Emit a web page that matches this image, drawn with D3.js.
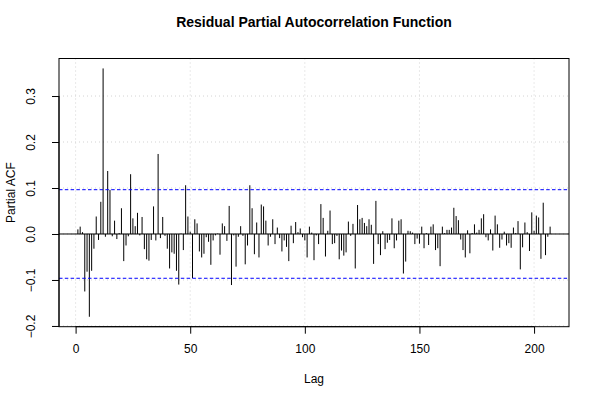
<!DOCTYPE html>
<html>
<head>
<meta charset="utf-8">
<script src="https://cdn.jsdelivr.net/npm/d3@7"></script>
<style>
  html, body { margin: 0; padding: 0; background: #fff; }
  svg { display: block; font-family: "Liberation Sans", Arial, Helvetica, sans-serif; }
</style>
</head>
<body>
<div id="chart"></div>
<script>
const title = "Residual Partial Autocorrelation Function";
const xLabel = "Lag";
const yLabel = "Partial ACF";
const xTicks = [0, 50, 100, 150, 200];
const yTicks = [-0.2, -0.1, 0.0, 0.1, 0.2, 0.3];
const yTickLabels = ["\u22120.2", "\u22120.1", "0.0", "0.1", "0.2", "0.3"];
const confLimit = 0.0963;
const pacf = [
  0.010, 0.016, 0.004, -0.125, -0.082, -0.180, -0.080, -0.032, 0.038, -0.013,
  0.070, 0.360, -0.006, 0.137, 0.096, -0.005, 0.029, -0.011, 0.002, 0.056,
  -0.059, -0.025, -0.005, 0.130, 0.034, 0.017, 0.046, -0.003, 0.037, -0.033,
  -0.055, -0.058, -0.013, 0.060, -0.014, 0.174, -0.009, 0.037, -0.004, -0.032,
  -0.075, -0.040, -0.043, -0.080, -0.110, 0.001, -0.035, 0.106, 0.038, 0.005,
  -0.096, 0.032, 0.023, -0.038, -0.051, -0.043, -0.007, -0.017, -0.067, -0.014,
  -0.003, 0.001, -0.045, 0.023, 0.017, -0.015, 0.061, -0.111, -0.003, -0.071,
  -0.006, 0.017, -0.004, -0.066, -0.025, 0.106, 0.056, -0.044, 0.025, -0.051,
  0.064, 0.060, 0.029, -0.025, -0.006, 0.032, -0.022, 0.014, -0.009, -0.038,
  -0.014, -0.028, -0.059, 0.018, -0.020, 0.026, 0.004, 0.012, -0.007, -0.014,
  -0.051, 0.016, 0.003, -0.057, -0.003, -0.022, 0.065, 0.035, -0.049, 0.007,
  0.051, -0.022, -0.020, -0.004, -0.055, -0.036, -0.047, -0.040, 0.027, -0.004,
  0.022, -0.075, 0.063, 0.032, 0.035, 0.024, 0.017, 0.032, 0.020, -0.065,
  0.072, -0.022, -0.046, 0.006, -0.033, -0.019, -0.013, 0.034, -0.031, -0.014,
  0.029, 0.032, -0.086, -0.060, 0.007, 0.006, 0.003, -0.022, -0.010, -0.021,
  0.016, -0.031, 0.002, -0.024, 0.016, 0.021, -0.035, -0.031, -0.070, 0.016,
  0.002, 0.009, 0.009, 0.014, 0.057, 0.039, 0.030, -0.012, -0.035, -0.051,
  0.008, -0.042, 0.002, 0.021, 0.003, 0.009, 0.034, 0.043, -0.007, -0.014,
  0.010, -0.036, 0.040, 0.021, -0.030, -0.012, 0.005, -0.025, -0.020, -0.030,
  0.014, 0.002, 0.028, -0.077, -0.029, 0.025, 0.004, -0.037, 0.047, 0.007,
  0.040, 0.036, -0.054, 0.068, -0.046, -0.006, 0.016
];
const lags = pacf.map((_, i) => i + 1);

const W = 600, H = 400;
const plot = { left: 59, right: 569, top: 58.5, bottom: 326.7 };

const svg = d3.select("#chart").append("svg").attr("width", W).attr("height", H);

// R-style 4% axis expansion
const xr = d3.extent(lags);
const xpad = (xr[1] - xr[0]) * 0.04;
const yr = d3.extent(pacf.concat([confLimit, -confLimit]));
const ypad = (yr[1] - yr[0]) * 0.04;

const x = d3.scaleLinear().domain([xr[0] - xpad, xr[1] + xpad]).range([plot.left, plot.right]);
const y = d3.scaleLinear().domain([yr[0] - ypad, yr[1] + ypad]).range([plot.bottom, plot.top]);

// grid
const grid = svg.append("g").attr("stroke", "#d3d3d3").attr("stroke-width", 1).attr("stroke-dasharray", "1,3");
grid.selectAll("line.gx").data(xTicks).enter().append("line")
  .attr("x1", d => x(d)).attr("x2", d => x(d))
  .attr("y1", plot.top).attr("y2", plot.bottom);
grid.selectAll("line.gy").data(yTicks).enter().append("line")
  .attr("x1", plot.left).attr("x2", plot.right)
  .attr("y1", d => y(d)).attr("y2", d => y(d));

// zero line
svg.append("line")
  .attr("x1", plot.left).attr("x2", plot.right)
  .attr("y1", y(0)).attr("y2", y(0))
  .attr("stroke", "#000").attr("stroke-width", 1);

// bars
svg.append("g").selectAll("line").data(lags).enter().append("line")
  .attr("x1", d => x(d)).attr("x2", d => x(d))
  .attr("y1", y(0)).attr("y2", (d, i) => y(pacf[i]))
  .attr("stroke", "#000").attr("stroke-width", 1);

// confidence limits
svg.append("g").selectAll("line").data([confLimit, -confLimit]).enter().append("line")
  .attr("x1", plot.left).attr("x2", plot.right)
  .attr("y1", d => y(d)).attr("y2", d => y(d))
  .attr("stroke", "#0000ff").attr("stroke-width", 1).attr("stroke-dasharray", "3.5,2.3");

// box
svg.append("rect")
  .attr("x", plot.left).attr("y", plot.top)
  .attr("width", plot.right - plot.left).attr("height", plot.bottom - plot.top)
  .attr("fill", "none").attr("stroke", "#000").attr("stroke-width", 1);

// x axis
const xAxis = d3.axisBottom(x).tickValues(xTicks).tickSize(7).tickPadding(11).tickFormat(d3.format("d"));
const gx = svg.append("g").attr("transform", `translate(0,${plot.bottom})`).call(xAxis);
gx.select(".domain").attr("d", `M${x(xTicks[0])},0H${x(xTicks[xTicks.length-1])}`);
gx.selectAll("text").attr("font-size", 12).attr("font-family", "Liberation Sans, Arial, sans-serif").attr("fill", "#000");

// y axis
const yAxis = d3.axisLeft(y).tickValues(yTicks).tickSize(7).tickFormat((d, i) => yTickLabels[i]);
const gy = svg.append("g").attr("transform", `translate(${plot.left},0)`).call(yAxis);
gy.select(".domain").attr("d", `M0,${y(yTicks[0])}V${y(yTicks[yTicks.length-1])}`);
gy.selectAll("text")
  .attr("font-size", 12).attr("font-family", "Liberation Sans, Arial, sans-serif").attr("fill", "#000")
  .attr("x", null).attr("dy", null)
  .attr("text-anchor", "middle")
  .attr("transform", "translate(-24,0) rotate(-90)");

// title
svg.append("text").attr("x", (plot.left + plot.right) / 2).attr("y", 27)
  .attr("text-anchor", "middle").attr("font-size", 14).attr("font-weight", "bold")
  .text(title);

// axis labels
svg.append("text").attr("x", (plot.left + plot.right) / 2).attr("y", 383)
  .attr("text-anchor", "middle").attr("font-size", 12).text(xLabel);
svg.append("text")
  .attr("transform", `translate(15,${(plot.top + plot.bottom) / 2}) rotate(-90)`)
  .attr("text-anchor", "middle").attr("font-size", 12).text(yLabel);
</script>
</body>
</html>
